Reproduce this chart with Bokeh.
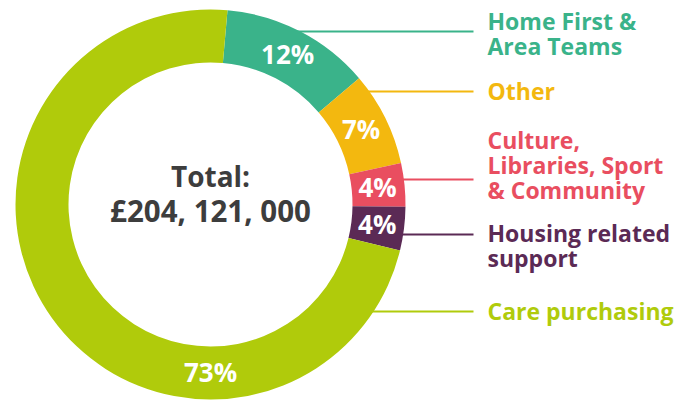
import math
from bokeh.plotting import figure
from bokeh.models import Range1d
from bokeh.core.properties import value
from bokeh.embed import file_html
from bokeh.resources import INLINE

# ---- data ----
categories = ["Home First &\nArea Teams", "Other", "Culture,\nLibraries, Sport\n& Community",
              "Housing related\nsupport", "Care purchasing"]
shares = [12.4, 7.8, 3.6, 3.6, 72.6]
pct_labels = ["12%", "7%", "4%", "4%", "73%"]
colors = ["#3ab38a", "#f3b80f", "#e94e60", "#5b2a55", "#b0cb0b"]
total_lines = ["Total:", "£204, 121, 000"]

# ---- layout (image pixel coords, y downward) ----
W, H = 675, 401
IMG_H = 401
def Y(img_y):
    return IMG_H - img_y

CX, CY = 210, Y(204)
R_OUT, R_IN = 195, 142
R_LAB = 168
START_DEG = 5.0          # first slice starts 5 degrees clockwise from top
label_line_y = [31, 91, 179, 234, 311]          # leader line heights (image y)
label_first_baseline = [20, 90, 139, 232, 310]  # first text anchor (image y)
LINE_H = 25
LINE_END_X = 473
TEXT_X = 487
FONT = value("Open Sans")

p = figure(width=W, height=H, output_backend="svg", toolbar_location=None,
           x_range=Range1d(0, W), y_range=Range1d(IMG_H - H, IMG_H),
           min_border=0)
p.axis.visible = False
p.grid.visible = False
p.outline_line_color = None
p.background_fill_color = "white"
p.border_fill_color = "white"

total = sum(shares)

# leader lines (under the ring)
for i, c in enumerate(colors):
    iy = label_line_y[i]
    dy = abs(iy - 204)
    x0 = CX + math.sqrt(max(R_OUT ** 2 - dy ** 2, 0)) - 6
    p.line([x0, LINE_END_X], [Y(iy), Y(iy)], line_color=c, line_width=2)

# ring
theta = START_DEG
for i, s in enumerate(shares):
    span = 360.0 * s / total
    a0 = math.radians(90 - theta)
    a1 = math.radians(90 - (theta + span))
    p.annular_wedge(x=CX, y=CY, inner_radius=R_IN, outer_radius=R_OUT,
                    start_angle=a0, end_angle=a1, direction="clock",
                    fill_color=colors[i], line_color=None)
    mid = theta + span / 2 if s < 50 else 180.0
    lx = CX + R_LAB * math.sin(math.radians(mid))
    ly = CY + R_LAB * math.cos(math.radians(mid))
    p.text(x=[lx], y=[ly + 1], text=[pct_labels[i]], text_font=FONT, text_font_style="bold",
           text_font_size="26px", text_color="white", text_align="center",
           text_baseline="middle")
    theta += span

# category labels
for i, cat in enumerate(categories):
    for j, line in enumerate(cat.split("\n")):
        p.text(x=[TEXT_X], y=[Y(label_first_baseline[i] + j * LINE_H)], text=[line],
               text_font=FONT, text_font_style="bold", text_font_size="23px",
               text_color=colors[i], text_align="left", text_baseline="alphabetic")

# centre total
center_sizes = ["28px", "29.5px"]
for j, line in enumerate(total_lines):
    p.text(x=[CX], y=[Y(175 + j * 35)], text=[line], text_font=FONT,
           text_font_style="bold", text_font_size=center_sizes[j], text_color="#3d3d3d",
           text_align="center", text_baseline="alphabetic")

open("out.html", "w").write(file_html(p, INLINE))
